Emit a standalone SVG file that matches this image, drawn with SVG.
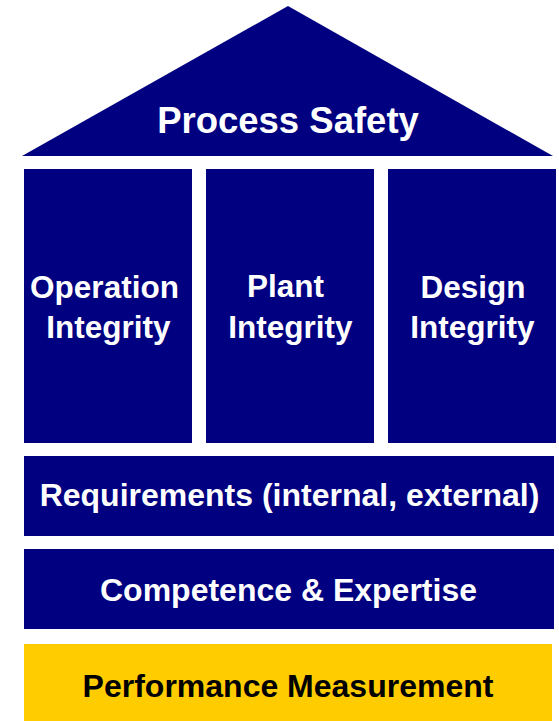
<svg xmlns="http://www.w3.org/2000/svg" width="559" height="721" viewBox="0 0 559 721">
<style>
.blk{fill:#000080}
.yel{fill:#FFCC00}
.t{font-family:"Liberation Sans",Arial,sans-serif;font-weight:bold;text-anchor:middle}
.w{fill:#FFFFFF}
.k{fill:#000000}
</style>
<rect width="559" height="721" fill="#FFFFFF"/>
<g id="roof">
<polygon class="blk" points="22,156 288,6 553,156"/>
<text class="t w" x="288" y="133" font-size="36.5">Process Safety</text>
</g>
<g id="pillar-operation">
<rect class="blk" x="24" y="169" width="168" height="274"/>
<text class="t w" x="104.5" y="298" font-size="31.5">Operation</text>
<text class="t w" x="108.5" y="338" font-size="31.5">Integrity</text>
</g>
<g id="pillar-plant">
<rect class="blk" x="206" y="169" width="168" height="274"/>
<text class="t w" x="285.5" y="297" font-size="31.5">Plant</text>
<text class="t w" x="290.5" y="338" font-size="31.5">Integrity</text>
</g>
<g id="pillar-design">
<rect class="blk" x="388" y="169" width="168" height="274"/>
<text class="t w" x="473" y="298" font-size="31.5">Design</text>
<text class="t w" x="472.5" y="338" font-size="31.5">Integrity</text>
</g>
<g id="requirements">
<rect class="blk" x="24" y="456" width="530" height="80"/>
<text class="t w" x="289.5" y="506" font-size="32">Requirements (internal, external)</text>
</g>
<g id="competence">
<rect class="blk" x="24" y="549" width="530" height="80"/>
<text class="t w" x="288.5" y="601" font-size="32">Competence &amp; Expertise</text>
</g>
<g id="performance">
<rect class="yel" x="24" y="644" width="528" height="77"/>
<text class="t k" x="288" y="697" font-size="32">Performance Measurement</text>
</g>
<g id="connectors"/>
</svg>
